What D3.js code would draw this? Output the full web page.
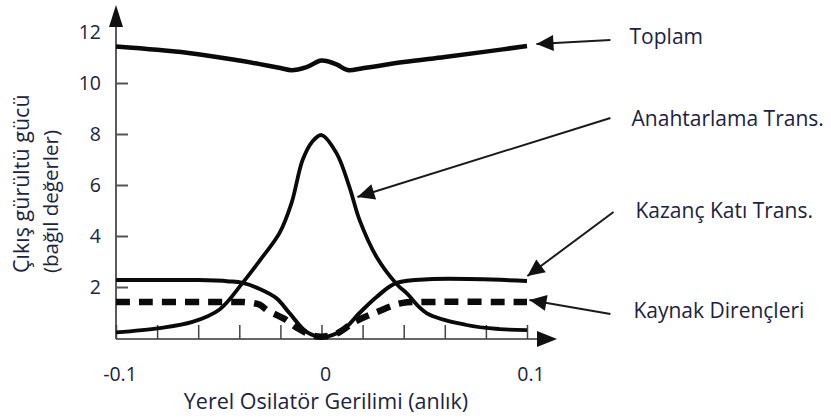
<!DOCTYPE html>
<html>
<head>
<meta charset="utf-8">
<script src="https://cdn.jsdelivr.net/npm/d3@7/dist/d3.min.js"></script>
<style>
  html, body { margin: 0; padding: 0; background: #fff; }
  svg { display: block; }
  text { font-family: "Open Sans", sans-serif; fill: #1b2340; }
</style>
</head>
<body>
<svg id="chart" width="831" height="418"></svg>
<script>
// Local oscillator voltage (instantaneous) vs. relative output noise power
const xTickValues = [-0.1, -0.08, -0.06, -0.04, -0.02, 0, 0.02, 0.04, 0.06, 0.08, 0.1];
const xTickLabels = [-0.1, 0, 0.1];
const yTickMarks = [2, 4, 6, 8, 10];
const yTickLabels = [2, 4, 6, 8, 10, 12];

// Toplam (total)
const toplamX = [-0.1, -0.08, -0.06, -0.04, -0.03, -0.02, -0.0146, -0.0073, 0, 0.0073, 0.0127, 0.02, 0.04, 0.06, 0.08, 0.1];
const toplamY = [11.43, 11.3, 11.13, 10.88, 10.74, 10.59, 10.5, 10.62, 10.88, 10.73, 10.51, 10.58, 10.82, 11.02, 11.23, 11.45];

// Anahtarlama Trans. (switching transistors)
const anahtarX = [-0.1, -0.0788, -0.0628, -0.0496, -0.0384, -0.0287, -0.0204, -0.0146, -0.0092, -0.0045, 0, 0.0073, 0.0136, 0.0185, 0.0268, 0.037, 0.0414, 0.0511, 0.0706, 0.0866, 0.1];
const anahtarY = [0.22, 0.39, 0.63, 1.12, 2.16, 3.18, 4.12, 5.29, 6.98, 7.7, 7.96, 7.25, 5.92, 4.63, 3.18, 2.08, 1.76, 0.98, 0.51, 0.35, 0.31];

// Kazanç Katı Trans. (gain stage transistors)
const kazancX = [-0.1, -0.06, -0.045, -0.0384, -0.03, -0.0219, -0.0156, -0.0073, 0.0005, 0.0102, 0.0185, 0.0268, 0.0365, 0.054, 0.1];
const kazancY = [2.27, 2.27, 2.22, 2.16, 1.92, 1.56, 0.98, 0.24, 0.04, 0.31, 0.98, 1.61, 2.16, 2.31, 2.24];

// Kaynak Dirençleri (source resistors)
const kaynakX = [-0.1, -0.045, -0.038, -0.03, -0.0263, -0.018, -0.012, -0.005, 0, 0.008, 0.016, 0.027, 0.039, 0.05, 0.1];
const kaynakY = [1.41, 1.41, 1.41, 1.3, 1.08, 0.75, 0.4, 0.12, 0.05, 0.2, 0.63, 1.02, 1.37, 1.41, 1.41];

// Callout labels: arrow tip, arrow tail and text anchor in data units
const calloutText = ["Toplam", "Anahtarlama Trans.", "Kazanç Katı Trans.", "Kaynak Dirençleri"];
const calloutTip  = [[0.1046, 11.53], [0.0175, 5.53], [0.1002, 2.43], [0.1012, 1.49]];
const calloutTail = [[0.1406, 11.69], [0.1406, 8.63], [0.1421, 4.94], [0.1406, 0.94]];
const calloutPos  = [[0.1499, 11.53], [0.1509, 8.31], [0.1528, 4.71], [0.1518, 0.78]];

const svg = d3.select("#chart");
const x = d3.scaleLinear().domain([-0.1, 0.1]).range([116, 527]);
const y = d3.scaleLinear().domain([0, 12]).range([338, 32]);

const zip = (xs, ys) => xs.map((v, i) => [v, ys[i]]);
const line = d3.line().x(d => x(d[0])).y(d => y(d[1])).curve(d3.curveCatmullRom.alpha(0.5));

function arrowHead(g, tip, from, len, half) {
  const dx = tip[0] - from[0], dy = tip[1] - from[1];
  const L = Math.hypot(dx, dy), ux = dx / L, uy = dy / L;
  const bx = tip[0] - ux * len, by = tip[1] - uy * len;
  g.append("path")
    .attr("d", `M${tip[0]},${tip[1]}L${bx - uy * half},${by + ux * half}L${bx + uy * half},${by - ux * half}Z`)
    .attr("fill", "#111");
}

// Axes
const axes = svg.append("g");
const x0 = x.range()[0], yBase = y(0) + 1;
axes.append("line").attr("x1", x0).attr("x2", x0).attr("y1", yBase).attr("y2", y(12) - 14)
  .attr("stroke", "#333").attr("stroke-width", 1.6);
arrowHead(axes, [x0, y(12) - 27], [x0, yBase], 22, 7);
axes.append("line").attr("x1", x0).attr("x2", x(0.1) + 18).attr("y1", yBase).attr("y2", yBase)
  .attr("stroke", "#333").attr("stroke-width", 1.6);
arrowHead(axes, [x(0.1) + 30, yBase], [x0, yBase], 20, 8);

const xAxis = d3.axisTop(x).tickValues(xTickValues).tickSize(14).tickFormat("");
const xg = axes.append("g").attr("transform", `translate(0,${yBase})`).call(xAxis);
xg.select(".domain").remove();
xg.selectAll(".tick line").attr("stroke", "#444").attr("stroke-width", 1.5);

const yAxis = d3.axisRight(y).tickValues(yTickMarks).tickSize(12).tickFormat("");
const yg = axes.append("g").attr("transform", `translate(${x0},0)`).call(yAxis);
yg.select(".domain").remove();
yg.selectAll(".tick line").attr("stroke", "#555").attr("stroke-width", 2);

// Tick labels
svg.append("g").selectAll("text").data(yTickLabels).join("text")
  .attr("x", x0 - 15).attr("y", d => y(d)).attr("dy", "0.35em")
  .attr("text-anchor", "end").attr("font-size", 19.5).text(d => d);
svg.append("g").selectAll("text").data(xTickLabels).join("text")
  .attr("x", d => x(d) + 4).attr("y", 381)
  .attr("text-anchor", "middle").attr("font-size", 19.5).text(d => d);

// Axis titles
svg.append("text").attr("x", 326).attr("y", 409).attr("text-anchor", "middle")
  .attr("font-size", 21.5).text("Yerel Osilatör Gerilimi (anlık)");
svg.append("text").attr("transform", "translate(29,273) rotate(-90)")
  .attr("font-size", 21.5).text("Çıkış gürültü gücü");
svg.append("text").attr("transform", "translate(58,273) rotate(-90)")
  .attr("font-size", 20.5).text("(bağıl değerler)");

// Curves
const curves = svg.append("g").attr("fill", "none").attr("stroke", "#0a0a0a").attr("stroke-linecap", "butt");
curves.append("path").attr("d", line(zip(toplamX, toplamY))).attr("stroke-width", 4.5);
curves.append("path").attr("d", line(zip(anahtarX, anahtarY))).attr("stroke-width", 3.8);
curves.append("path").attr("d", line(zip(kazancX, kazancY))).attr("stroke-width", 4);
curves.append("path").attr("d", line(zip(kaynakX, kaynakY))).attr("stroke-width", 6.5)
  .attr("stroke-dasharray", "14,9");

// Callouts
const callouts = svg.append("g");
calloutText.forEach((t, i) => {
  const tip = [x(calloutTip[i][0]), y(calloutTip[i][1])];
  const tail = [x(calloutTail[i][0]), y(calloutTail[i][1])];
  callouts.append("line").attr("x1", tail[0]).attr("y1", tail[1]).attr("x2", tip[0]).attr("y2", tip[1])
    .attr("stroke", "#1a1a1a").attr("stroke-width", 2);
  arrowHead(callouts, tip, tail, 17, 8);
  callouts.append("text").attr("x", x(calloutPos[i][0])).attr("y", y(calloutPos[i][1]))
    .attr("font-size", 21).text(t);
});
</script>
</body>
</html>
